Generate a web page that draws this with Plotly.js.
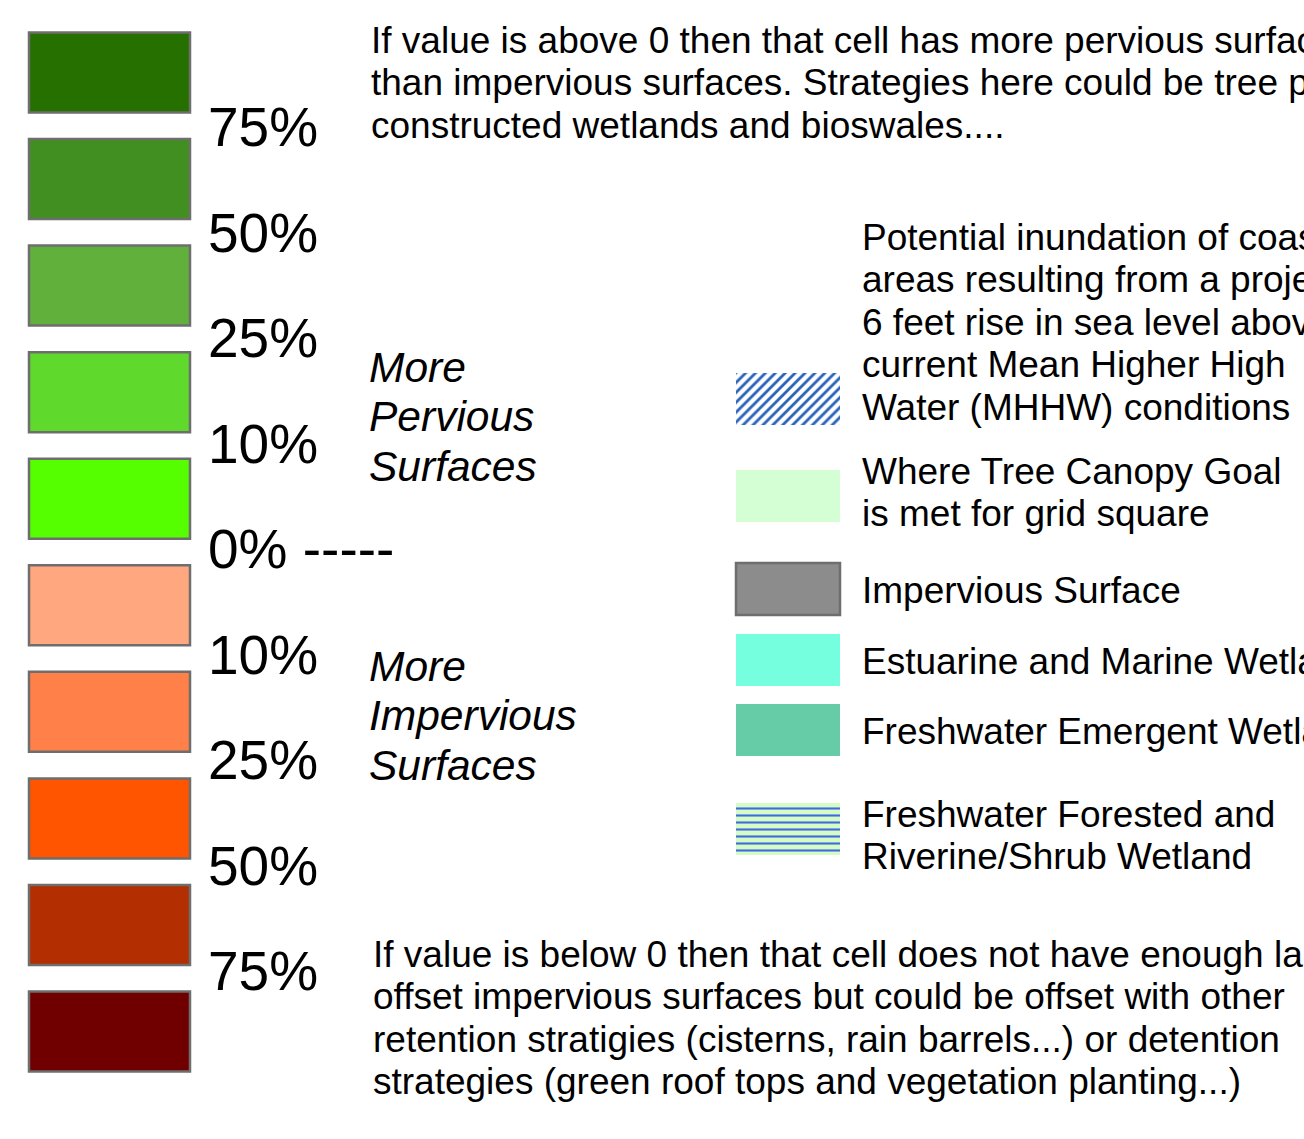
<!DOCTYPE html>
<html>
<head>
<meta charset="utf-8">
<script src="https://cdn.plot.ly/plotly-3.0.1.min.js"></script>
<style>html,body{margin:0;padding:0;background:#fff;}#chart{width:1304px;height:1139px;}</style>
</head>
<body>
<div id="chart"></div>
<script>
// ---- data ----
var classColors = ['#267000','#428f21','#61b03c','#5ed92c','#55ff00','#ffa77f','#ff8048','#ff5500','#b32e00','#700000'];
var classBreaks = ['75%','50%','25%','10%','0% -----','10%','25%','50%','75%'];
var groupLabels = [['More','Pervious','Surfaces'],['More','Impervious','Surfaces']];
var noteAbove = ['If value is above 0 then that cell has more pervious surfaces',
                 'than impervious surfaces. Strategies here could be tree planting,',
                 'constructed wetlands and bioswales....'];
var noteBelow = ['If value is below 0 then that cell does not have enough land to',
                 'offset impervious surfaces but could be offset with other',
                 'retention stratigies (cisterns, rain barrels...) or detention',
                 'strategies (green roof tops and vegetation planting...)'];
var featureNames = [
  ['Potential inundation of coastal','areas resulting from a projected','6 feet rise in sea level above','current Mean Higher High','Water (MHHW) conditions'],
  ['Where Tree Canopy Goal','is met for grid square'],
  ['Impervious Surface'],
  ['Estuarine and Marine Wetland'],
  ['Freshwater Emergent Wetland'],
  ['Freshwater Forested and','Riverine/Shrub Wetland']
];
// solid feature swatches (tree canopy, impervious, estuarine, emergent)
var solidFill   = ['#d4ffd4','#8c8c8c','#75ffdf','#66cca8'];
var solidBorder = [0,2.5,0,0];
// patterned feature swatches (inundation hatch, forested wetland)
var hatchFg = '#2a64ba', hatchBg = '#ffffff';
var forestFg = '#4169e1', forestBg = '#d5fcc4';

// ---- layout config (positions/sizes) ----
var L = {
  W:1304, H:1139,
  swLeft:29, swWidth:161, swTop0:72.5, swPitch:106.56, swHeight:80,
  pctX:206, pctSize:55, pctY0:127, pctPitch:105.5,
  groupX:367, groupSize:42.5, groupY:[367,666], groupLine:49.5,
  noteX:369, noteSize:37, noteAboveY:40.5, noteBelowY:954.5, noteLine:42.3,
  ftSwLeft:736, ftSwWidth:104, ftSwHeight:52,
  solidY:[496,589,660,730], hatchY:399, forestY:829,
  ftTextX:860, ftTextY:[237,471,590,661,731,814], ftSize:37, ftLine:42.5
};
var FONT = 'Liberation Sans, Arial, sans-serif';

var traces = [];
var idx = classColors.map(function(c,i){return i;});
traces.push({
  type:'bar', orientation:'h',
  y: idx.map(function(i){return L.swTop0 + i*L.swPitch;}),
  x: idx.map(function(){return L.swWidth;}),
  base: L.swLeft, width: L.swHeight,
  marker:{color:classColors, line:{color:'#6e6e6e', width:2.5}},
  hoverinfo:'skip', showlegend:false
});
traces.push({
  type:'bar', orientation:'h',
  y: L.solidY, x: L.solidY.map(function(){return L.ftSwWidth;}),
  base: L.ftSwLeft, width: L.ftSwHeight,
  marker:{color:solidFill, line:{color:'#6e6e6e', width:solidBorder}},
  hoverinfo:'skip', showlegend:false
});
traces.push({
  type:'bar', orientation:'h',
  y: [L.hatchY], x: [L.ftSwWidth], base: L.ftSwLeft, width: L.ftSwHeight,
  marker:{color:hatchBg, line:{width:0},
          pattern:{shape:'/', fillmode:'overlay', fgcolor:hatchFg, fgopacity:1, size:7, solidity:0.4}},
  hoverinfo:'skip', showlegend:false
});
traces.push({
  type:'bar', orientation:'h',
  y: [L.forestY], x: [L.ftSwWidth], base: L.ftSwLeft, width: L.ftSwHeight,
  marker:{color:forestBg, line:{width:0},
          pattern:{shape:'-', fillmode:'overlay', fgcolor:forestFg, fgopacity:1, size:7, solidity:0.3}},
  hoverinfo:'skip', showlegend:false
});

var ann = [];
function addText(txt, x, y, size, italic){
  ann.push({text:txt, x:x, y:y, xref:'x', yref:'y', xanchor:'left', yanchor:'middle',
    showarrow:false, font:{family:FONT, size:size, color:'#000', style: italic?'italic':'normal'}});
}
classBreaks.forEach(function(t,i){ addText(t, L.pctX, L.pctY0 + i*L.pctPitch, L.pctSize, false); });
groupLabels.forEach(function(g,k){ g.forEach(function(t,j){ addText(t, L.groupX, L.groupY[k]+j*L.groupLine, L.groupSize, true); }); });
noteAbove.forEach(function(t,j){ addText(t, L.noteX, L.noteAboveY + j*L.noteLine, L.noteSize, false); });
noteBelow.forEach(function(t,j){ addText(t, L.noteX+2, L.noteBelowY + j*L.noteLine, L.noteSize, false); });
featureNames.forEach(function(lines,k){ lines.forEach(function(t,j){ addText(t, L.ftTextX, L.ftTextY[k] + j*L.ftLine, L.ftSize, false); }); });

var layout = {
  width:L.W, height:L.H, margin:{l:0,r:0,t:0,b:0},
  paper_bgcolor:'#fff', plot_bgcolor:'#fff',
  xaxis:{range:[0,L.W], visible:false, fixedrange:true},
  yaxis:{range:[L.H,0], visible:false, fixedrange:true},
  bargap:0, barmode:'overlay',
  annotations:ann
};
Plotly.newPlot('chart', traces, layout, {staticPlot:true, displayModeBar:false});
</script>
</body>
</html>
